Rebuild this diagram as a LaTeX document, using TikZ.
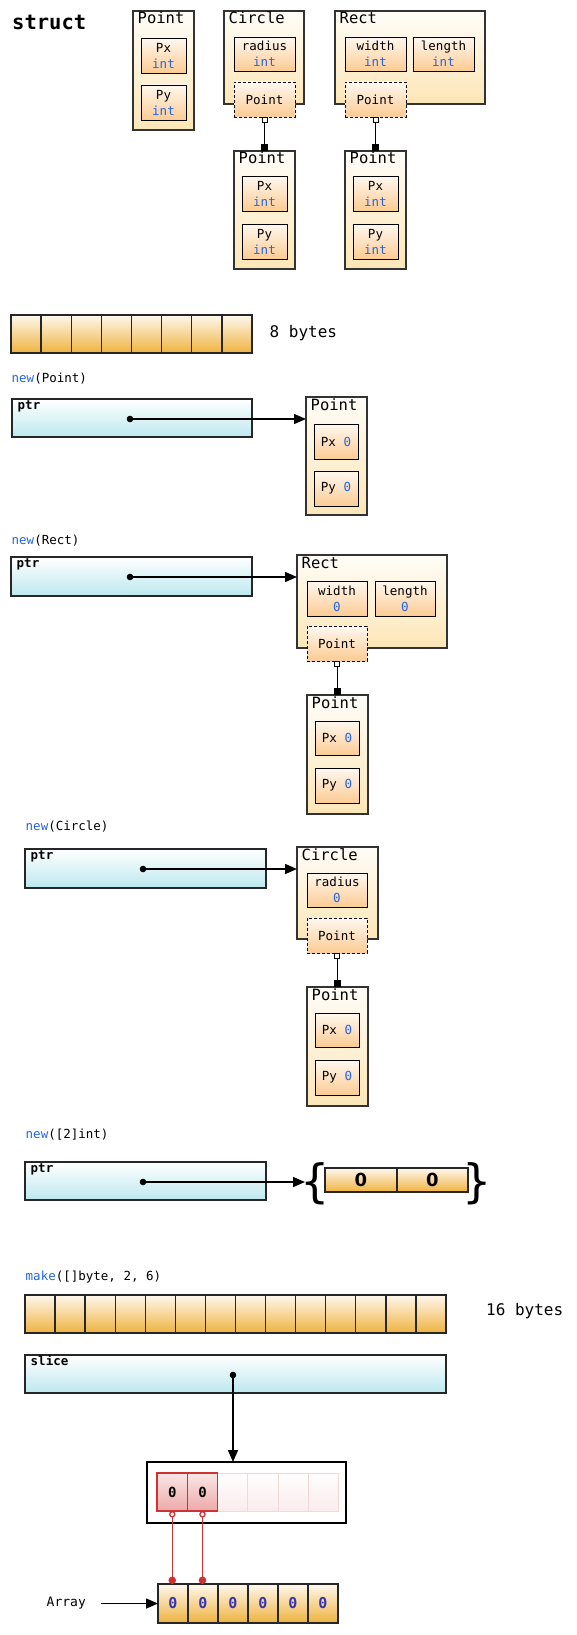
\documentclass[tikz,border=0pt]{standalone}
\usepackage{fontspec}
\setmainfont{DejaVu Sans}
\setmonofont{DejaVu Sans Mono}
\usetikzlibrary{arrows.meta}
\definecolor{kw}{HTML}{2266E3}
\definecolor{otop}{HTML}{FFFDF8}
\definecolor{obot}{HTML}{FCE6B6}
\definecolor{ftop}{HTML}{FFF8F0}
\definecolor{fbot}{HTML}{FCCB93}
\definecolor{btop}{HTML}{FEF8EE}
\definecolor{bbot}{HTML}{EFB23F}
\definecolor{pbot}{HTML}{BCE8EF}
\definecolor{rtop}{HTML}{FBE6E6}
\definecolor{rbot}{HTML}{EDA9A9}
\definecolor{rline}{HTML}{CC3333}
\definecolor{ftline}{HTML}{F3D8D8}
\definecolor{ftbot}{HTML}{FBEBEB}
\definecolor{azero}{HTML}{3535B0}
\newcommand\TitleFont{\fontsize{15.5}{18}\selectfont\ttfamily}
\newcommand\FieldFont{\fontsize{12.5}{16}\selectfont\ttfamily}
\newcommand\CodeFont{\fontsize{12.5}{15}\selectfont\ttfamily}
\newcommand\BigFont{\fontsize{16}{19}\selectfont\ttfamily}
\tikzset{
  outerbox/.style={draw=black!80, line width=1.7pt, top color=otop, bottom color=obot, anchor=north west, inner sep=0pt, outer sep=0pt},
  fieldbox/.style={draw=black, line width=0.9pt, top color=ftop, bottom color=fbot, anchor=north west, inner sep=0pt, outer sep=0pt, align=center, font=\FieldFont},
  dashbox/.style={fieldbox, dash pattern=on 3pt off 2pt},
  titletext/.style={anchor=base west, inner sep=0pt, font=\TitleFont},
  codetext/.style={anchor=base west, inner sep=0pt, font=\CodeFont},
  ptrlabel/.style={anchor=base west, inner sep=0pt, font=\CodeFont\bfseries},
  bytecell/.style={draw=black!85, line width=1.4pt, top color=btop, bottom color=bbot, anchor=north west, inner sep=0pt, outer sep=0pt},
  ptrbox/.style={draw=black!85, line width=1.5pt, top color=white, bottom color=pbot, anchor=north west, inner sep=0pt, outer sep=0pt},
  ptrarrow/.style={line width=1.5pt, -{Triangle[length=12pt,width=10pt]}},
  connector/.style={line width=0.9pt, {Square[fill=white,length=6pt,width=6pt]}-{Square[length=7pt,width=7pt]}},
  redcell/.style={draw=rline, line width=1.2pt, top color=rtop, bottom color=rbot, anchor=north west, inner sep=0pt, outer sep=0pt, font=\fontsize{14}{16}\selectfont\ttfamily\bfseries},
  faintcell/.style={draw=ftline, line width=1pt, top color=white, bottom color=ftbot, anchor=north west, inner sep=0pt, outer sep=0pt},
  redconn/.style={draw=rline, line width=1.3pt, {Circle[open,length=6.5pt,width=6.5pt]}-{Circle[length=7.5pt,width=7.5pt]}},
  bracetext/.style={inner sep=0pt, font=\fontsize{46}{46}\selectfont},
}
\begin{document}
\begin{tikzpicture}[x=1pt,y=-1pt]
\useasboundingbox (0,0) rectangle (576,1635);

% ---------- struct ----------
\node[anchor=base west, inner sep=0pt, font=\fontsize{20.5}{24}\selectfont\ttfamily\bfseries] (st) at (12,29.5) {struct};

% Point
\node[outerbox, minimum width=61pt, minimum height=119pt] (sp) at (133,11) {};
\node[titletext] (spt) at (137.5,24) {Point};
\node[fieldbox, minimum width=45pt, minimum height=35pt] (spx) at (141,38) {Px\\\textcolor{kw}{int}};
\node[fieldbox, minimum width=45pt, minimum height=35pt] (spy) at (141,85) {Py\\\textcolor{kw}{int}};

% Circle
\node[outerbox, minimum width=80pt, minimum height=93pt] (sc) at (224,11) {};
\node[titletext] (sct) at (228.5,24) {Circle};
\node[fieldbox, minimum width=61pt, minimum height=34pt] (scr) at (234,37) {radius\\\textcolor{kw}{int}};
\node[dashbox, minimum width=61pt, minimum height=35pt] (scp) at (234,82) {Point};
\node[outerbox, minimum width=61pt, minimum height=118pt] (scq) at (234,151) {};
\node[titletext] (scqt) at (238.5,164) {Point};
\node[fieldbox, minimum width=45pt, minimum height=35pt] (scqx) at (242,176) {Px\\\textcolor{kw}{int}};
\node[fieldbox, minimum width=45pt, minimum height=35pt] (scqy) at (242,224) {Py\\\textcolor{kw}{int}};
\draw[connector] (scp.south) -- (scp.south |- scq.north);

% Rect
\node[outerbox, minimum width=150pt, minimum height=93pt] (sr) at (335,11) {};
\node[titletext] (srt) at (339.5,24) {Rect};
\node[fieldbox, minimum width=61pt, minimum height=34pt] (srw) at (345,37) {width\\\textcolor{kw}{int}};
\node[fieldbox, minimum width=61pt, minimum height=34pt] (srl) at (413,37) {length\\\textcolor{kw}{int}};
\node[dashbox, minimum width=61pt, minimum height=35pt] (srp) at (345,82) {Point};
\node[outerbox, minimum width=61pt, minimum height=118pt] (srq) at (345,151) {};
\node[titletext] (srqt) at (349.5,164) {Point};
\node[fieldbox, minimum width=45pt, minimum height=35pt] (srqx) at (353,176) {Px\\\textcolor{kw}{int}};
\node[fieldbox, minimum width=45pt, minimum height=35pt] (srqy) at (353,224) {Py\\\textcolor{kw}{int}};
\draw[connector] (srp.south) -- (srp.south |- srq.north);

% ---------- 8 bytes ----------
\foreach \i in {0,...,7}
  \node[bytecell, minimum width=30.125pt, minimum height=38pt] (e\i) at ({11+30.125*\i},315) {};
\node[anchor=base west, inner sep=0pt, font=\BigFont] (l8) at (269.5,337.5) {8 bytes};

% ---------- new(Point) ----------
\node[codetext] (c1) at (11.5,382) {\textcolor{kw}{new}(Point)};
\node[ptrbox, minimum width=240pt, minimum height=38pt] (p1) at (12,399) {};
\node[ptrlabel] (p1l) at (17.5,409) {ptr};
\coordinate (d1) at (130,419);
\node[outerbox, minimum width=61pt, minimum height=118pt] (np) at (306,397) {};
\node[titletext] (npt) at (310.5,410) {Point};
\node[fieldbox, minimum width=44pt, minimum height=35pt] (npx) at (314,424) {Px \textcolor{kw}{0}};
\node[fieldbox, minimum width=44pt, minimum height=35pt] (npy) at (314,471) {Py \textcolor{kw}{0}};
\draw[ptrarrow] (d1) -- (d1 -| np.west);
\fill (d1) circle[radius=3.3pt];

% ---------- new(Rect) ----------
\node[codetext] (c2) at (11.5,544) {\textcolor{kw}{new}(Rect)};
\node[ptrbox, minimum width=241pt, minimum height=39pt] (p2) at (11,557) {};
\node[ptrlabel] (p2l) at (16.5,567) {ptr};
\coordinate (d2) at (130,577);
\node[outerbox, minimum width=150pt, minimum height=93pt] (nr) at (297,555) {};
\node[titletext] (nrt) at (301.5,568) {Rect};
\node[fieldbox, minimum width=60pt, minimum height=35pt] (nrw) at (307,581) {width\\\textcolor{kw}{0}};
\node[fieldbox, minimum width=60pt, minimum height=35pt] (nrl) at (375,581) {length\\\textcolor{kw}{0}};
\node[dashbox, minimum width=60pt, minimum height=35pt] (nrp) at (307,626) {Point};
\node[outerbox, minimum width=61pt, minimum height=119pt] (nrq) at (307,695) {};
\node[titletext] (nrqt) at (311.5,708) {Point};
\node[fieldbox, minimum width=44pt, minimum height=34pt] (nrqx) at (315,721) {Px \textcolor{kw}{0}};
\node[fieldbox, minimum width=44pt, minimum height=35pt] (nrqy) at (315,768) {Py \textcolor{kw}{0}};
\draw[connector] (nrp.south) -- (nrp.south |- nrq.north);
\draw[ptrarrow] (d2) -- (d2 -| nr.west);
\fill (d2) circle[radius=3.3pt];

% ---------- new(Circle) ----------
\node[codetext] (c3) at (25.5,830) {\textcolor{kw}{new}(Circle)};
\node[ptrbox, minimum width=241pt, minimum height=39pt] (p3) at (25,849) {};
\node[ptrlabel] (p3l) at (30.5,859) {ptr};
\coordinate (d3) at (143,869);
\node[outerbox, minimum width=81pt, minimum height=92pt] (nc) at (297,847) {};
\node[titletext] (nct) at (301.5,860) {Circle};
\node[fieldbox, minimum width=60pt, minimum height=34pt] (ncr) at (307,873) {radius\\\textcolor{kw}{0}};
\node[dashbox, minimum width=60pt, minimum height=35pt] (ncp) at (307,918) {Point};
\node[outerbox, minimum width=61pt, minimum height=119pt] (ncq) at (307,987) {};
\node[titletext] (ncqt) at (311.5,1000) {Point};
\node[fieldbox, minimum width=44pt, minimum height=34pt] (ncqx) at (315,1013) {Px \textcolor{kw}{0}};
\node[fieldbox, minimum width=44pt, minimum height=35pt] (ncqy) at (315,1060) {Py \textcolor{kw}{0}};
\draw[connector] (ncp.south) -- (ncp.south |- ncq.north);
\draw[ptrarrow] (d3) -- (d3 -| nc.west);
\fill (d3) circle[radius=3.3pt];

% ---------- new([2]int) ----------
\node[codetext] (c4) at (25.5,1138) {\textcolor{kw}{new}([2]int)};
\node[ptrbox, minimum width=241pt, minimum height=38pt] (p4) at (25,1162) {};
\node[ptrlabel] (p4l) at (30.5,1172) {ptr};
\coordinate (d4) at (143,1182);
\coordinate (t4) at (305,1182);
\node[bracetext] (lb) at (315.5,1183.5) {\{};
\node[bytecell, minimum width=72pt, minimum height=24pt, font=\fontsize{18}{20}\selectfont\bfseries] (a0) at (325,1168) {0};
\node[bytecell, minimum width=71pt, minimum height=24pt, font=\fontsize{18}{20}\selectfont\bfseries] (a1) at (397,1168) {0};
\node[bracetext] (rb) at (477.5,1183.5) {\}};
\draw[ptrarrow] (d4) -- (t4);
\fill (d4) circle[radius=3.3pt];

% ---------- make([]byte, 2, 6) ----------
\node[codetext] (c5) at (25.5,1280) {\textcolor{kw}{make}([]byte, 2, 6)};
\foreach \i in {0,...,13}
  \node[bytecell, minimum width=30.07pt, minimum height=38pt] (b\i) at ({25+30.07*\i},1295) {};
\node[anchor=base west, inner sep=0pt, font=\BigFont] (l16) at (486,1315.5) {16 bytes};
\node[ptrbox, minimum width=421pt, minimum height=38pt] (sl) at (25,1355) {};
\node[ptrlabel] (sll) at (30.5,1365.5) {slice};
\coordinate (ds) at (233,1375);
\node[draw=black, line width=1.8pt, fill=white, anchor=north west, inner sep=0pt, outer sep=0pt, minimum width=199pt, minimum height=61pt] (sv) at (147,1462) {};
\node[faintcell, minimum width=30.25pt, minimum height=38pt] (f2) at (217.5,1473) {};
\node[faintcell, minimum width=30.25pt, minimum height=38pt] (f3) at (247.75,1473) {};
\node[faintcell, minimum width=30.25pt, minimum height=38pt] (f4) at (278,1473) {};
\node[faintcell, minimum width=30.25pt, minimum height=38pt] (f5) at (308.25,1473) {};
\node[redcell, minimum width=30.5pt, minimum height=38pt] (s0) at (157,1473) {0};
\node[redcell, minimum width=30pt, minimum height=38pt] (s1) at (187.5,1473) {0};
\draw[ptrarrow] (ds) -- (ds |- sv.north);
\fill (ds) circle[radius=3.3pt];

% ---------- Array ----------
\node[anchor=base west, inner sep=0pt, font=\fontsize{13}{15}\selectfont\ttfamily] (arl) at (46.5,1606) {Array};
\coordinate (as) at (101,1603.5);
\foreach \i in {0,...,5}
  \node[bytecell, minimum width=30pt, minimum height=39pt, font=\fontsize{15}{17}\selectfont\ttfamily\bfseries, text=azero] (r\i) at ({158+30*\i},1584) {0};
\draw[ptrarrow] (as) -- (r0.west);
\draw[redconn] (s0.south) -- (s0.south |- r0.north);
\draw[redconn] (s1.south) -- (s1.south |- r1.north);
\end{tikzpicture}
\end{document}
